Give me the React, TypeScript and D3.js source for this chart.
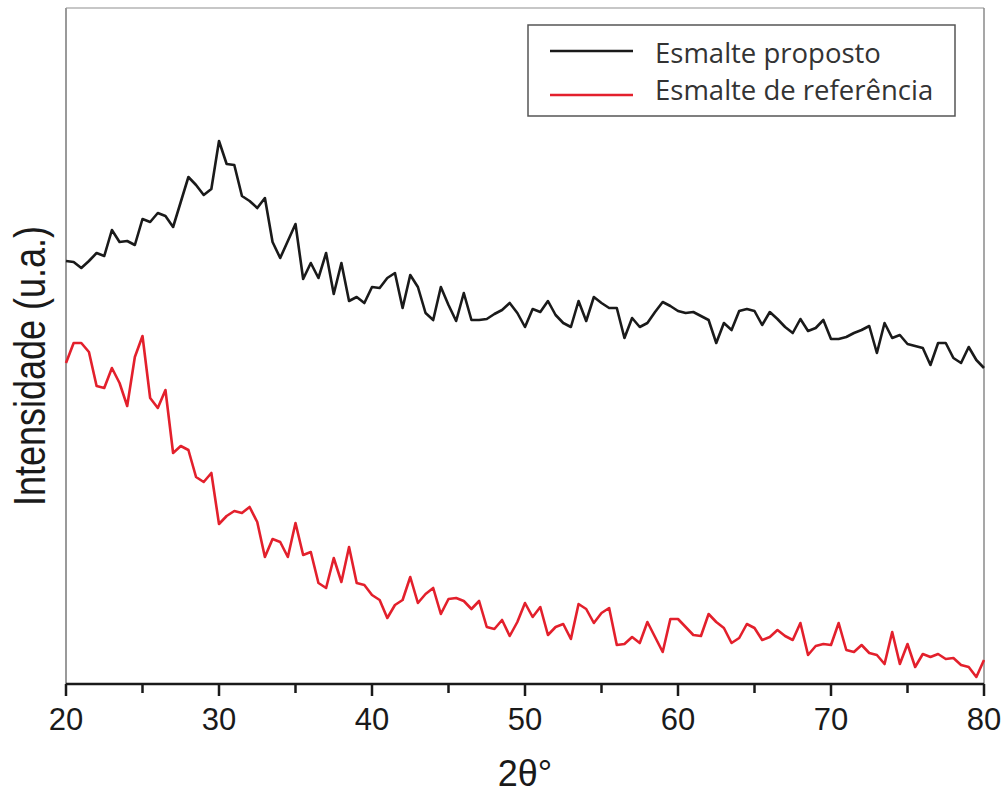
import React from 'react'
import * as d3 from 'd3'

// 2θ sampling grid, one reading every 0.5°
const twoTheta = d3.range(20, 80.001, 0.5)

// intensity (a.u.)
const proposto = [
  423, 422, 416, 423, 431, 428, 454, 442, 443, 439, 465, 462, 471, 468, 457, 482, 507, 499, 489, 495,
  543, 520, 519, 488, 483, 476, 486, 442, 426, 443, 460, 405, 421, 406, 431, 390, 421, 383, 387, 381,
  397, 396, 406, 411, 376, 409, 397, 371, 364, 397, 379, 363, 391, 364, 364, 365, 370, 374, 381, 371,
  357, 375, 372, 383, 369, 361, 357, 383, 363, 387, 381, 376, 376, 346, 366, 357, 361, 372, 382, 378,
  373, 371, 372, 368, 364, 341, 361, 354, 373, 375, 373, 359, 372, 365, 357, 351, 365, 353, 356, 364,
  345, 345, 347, 351, 354, 358, 331, 361, 346, 349, 340, 338, 336, 319, 341, 341, 326, 321, 337, 324,
  316,
]

const referencia = [
  321, 341, 341, 332, 298, 296, 316, 301, 278, 327, 348, 286, 276, 294, 231, 238, 234, 207, 202, 211,
  160, 168, 173, 171, 177, 162, 127, 145, 142, 127, 161, 129, 132, 101, 96, 126, 102, 137, 101, 99,
  89, 84, 66, 79, 84, 107, 81, 90, 96, 70, 85, 86, 83, 75, 83, 57, 55, 64, 48, 62,
  81, 67, 77, 49, 57, 60, 45, 80, 75, 61, 71, 76, 39, 40, 47, 41, 62, 47, 32, 65,
  65, 57, 49, 48, 70, 62, 56, 41, 46, 60, 56, 44, 47, 54, 48, 44, 61, 29, 38, 40,
  39, 61, 34, 32, 39, 31, 29, 20, 52, 20, 40, 17, 30, 27, 30, 25, 26, 19, 17, 7,
  24,
]

const seriesNames = ['Esmalte proposto', 'Esmalte de referência']
const seriesColors = ['#1a1a1a', '#e3202c']
const xTicks = [20, 30, 40, 50, 60, 70, 80]
const xMinorTicks = [25, 35, 45, 55, 65, 75]

export default function App() {
  const width = 1005,
    height = 796
  const left = 66,
    right = 984,
    top = 8,
    bottom = 684

  const x = d3.scaleLinear().domain([20, 80]).range([left, right])
  const y = d3.scaleLinear().domain([0, 676]).range([bottom, top])

  const line = d3
    .line<number>()
    .x((d, i) => x(twoTheta[i]))
    .y(d => y(d))

  const series = [proposto, referencia]

  return (
    <svg
      width={width}
      height={height}
      style={{ position: 'absolute', left: 0, top: 0, background: '#fff' }}
      fontFamily="'Liberation Sans', Arial, sans-serif"
    >
      {/* frame */}
      <line x1={left} x2={right} y1={top} y2={top} stroke="#b5b5b5" strokeWidth={1.5} />
      <line x1={right} x2={right} y1={top} y2={bottom} stroke="#8a8a8a" strokeWidth={1.5} />
      <line x1={left} x2={left} y1={top} y2={bottom} stroke="#9a9a9a" strokeWidth={2} />

      {/* data */}
      {series.map((s, k) => (
        <path
          key={k}
          d={line(s) || ''}
          fill="none"
          stroke={seriesColors[k]}
          strokeWidth={2.6}
          strokeLinejoin="round"
        />
      ))}

      {/* x axis */}
      <line x1={left} x2={right} y1={bottom} y2={bottom} stroke="#1a1a1a" strokeWidth={2.5} />
      {xTicks.map(t => (
        <g key={t} transform={`translate(${x(t)},${bottom})`}>
          <line y1={0} y2={12} stroke="#1a1a1a" strokeWidth={2.5} />
          <text y={46} textAnchor="middle" fontSize={31} fill="#1a1a1a">
            {t}
          </text>
        </g>
      ))}
      {xMinorTicks.map(t => (
        <line
          key={t}
          x1={x(t)}
          x2={x(t)}
          y1={bottom}
          y2={bottom + 9}
          stroke="#1a1a1a"
          strokeWidth={2.5}
        />
      ))}
      <text x={(left + right) / 2} y={786} textAnchor="middle" fontSize={36} fill="#1a1a1a">
        2θ°
      </text>
      <text
        transform={`translate(45,366) rotate(-90) scale(1,1.24)`}
        textAnchor="middle"
        fontSize={36}
        fill="#1a1a1a"
      >
        Intensidade (u.a.)
      </text>

      {/* legend */}
      <rect x={528} y={25} width={427} height={91} fill="#fff" stroke="#555" strokeWidth={1.5} />
      {seriesNames.map((n, k) => (
        <g key={n}>
          <line
            x1={550}
            x2={633}
            y1={51 + k * 44}
            y2={51 + k * 44}
            stroke={seriesColors[k]}
            strokeWidth={2.5}
          />
          <text
            x={655}
            y={63 + k * 37}
            fontSize={27.5}
            fontFamily="'Open Sans', sans-serif"
            fill="#333"
          >
            {n}
          </text>
        </g>
      ))}
    </svg>
  )
}
